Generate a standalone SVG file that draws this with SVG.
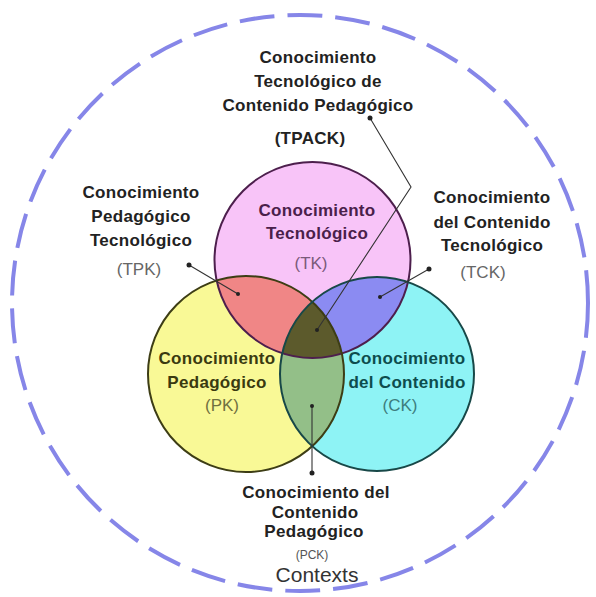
<svg xmlns="http://www.w3.org/2000/svg" xmlns:xlink="http://www.w3.org/1999/xlink" width="596" height="597" viewBox="0 0 596 597">
<style>
text{font-family:"Liberation Sans",Arial,sans-serif;text-anchor:middle}
.b{font-size:17px;font-weight:bold;letter-spacing:0.3px}
.a{font-size:17px}
.lbl{fill:#222}
.acr{fill:#666}
.conn{fill:none;stroke:#333;stroke-width:1.1}
.dot{fill:#222}
.ring{fill:none;stroke-width:2}
</style>
<defs>
<clipPath id="clipTK"><circle cx="312.5" cy="260" r="98"/></clipPath>
<clipPath id="clipPK"><circle cx="246" cy="374" r="98"/></clipPath>
<clipPath id="clipCK"><circle cx="377" cy="374" r="97"/></clipPath>
</defs>
<rect width="596" height="597" fill="#ffffff"/>
<g id="contexts">
<circle cx="300" cy="303" r="288" fill="none" stroke="#8686e8" stroke-width="4" stroke-dasharray="35 13"/>
<text x="317" y="582" font-size="21" fill="#333">Contexts</text>
</g>
<g id="fills">
<circle cx="312.5" cy="260" r="98" fill="#f8c4f8"/>
<circle cx="246" cy="374" r="98" fill="#f9f996"/>
<circle cx="377" cy="374" r="97" fill="#8ef3f5"/>
<circle cx="246" cy="374" r="98" fill="#f08686" clip-path="url(#clipTK)"/>
<circle cx="377" cy="374" r="97" fill="#8b8bf2" clip-path="url(#clipTK)"/>
<circle cx="377" cy="374" r="97" fill="#93bf88" clip-path="url(#clipPK)"/>
<g clip-path="url(#clipTK)"><circle cx="377" cy="374" r="97" fill="#5c5a2c" clip-path="url(#clipPK)"/></g>
</g>
<g id="tk">
<circle class="ring" cx="312.5" cy="260" r="98" stroke="#4d1f4d"/>
<text class="b" x="317" y="216" fill="#4a204a">Conocimiento</text>
<text class="b" x="317" y="239" fill="#4a204a">Tecnológico</text>
<text class="a" x="311" y="269" fill="#7a5a7a">(TK)</text>
</g>
<g id="pk">
<circle class="ring" cx="246" cy="374" r="98" stroke="#3d3d15"/>
<text class="b" x="217" y="364" fill="#3a3a10">Conocimiento</text>
<text class="b" x="217" y="388" fill="#3a3a10">Pedagógico</text>
<text class="a" x="222" y="411" fill="#707040">(PK)</text>
</g>
<g id="ck">
<circle class="ring" cx="377" cy="374" r="97" stroke="#184848"/>
<text class="b" x="407" y="364" fill="#0d4d4d">Conocimiento</text>
<text class="b" x="407" y="388" fill="#0d4d4d">del Contenido</text>
<text class="a" x="400" y="411" fill="#3d7d7d">(CK)</text>
</g>
<g id="tpack">
<text class="b lbl" x="318" y="63">Conocimiento</text>
<text class="b lbl" x="318" y="87">Tecnológico de</text>
<text class="b lbl" x="318" y="111">Contenido Pedagógico</text>
<text class="b lbl" x="310" y="144">(TPACK)</text>
</g>
<g id="tpk">
<text class="b lbl" x="141" y="198">Conocimiento</text>
<text class="b lbl" x="141" y="222">Pedagógico</text>
<text class="b lbl" x="141" y="246">Tecnológico</text>
<text class="a acr" x="139" y="275">(TPK)</text>
</g>
<g id="tck">
<text class="b lbl" x="492" y="203">Conocimiento</text>
<text class="b lbl" x="492" y="228">del Contenido</text>
<text class="b lbl" x="492" y="251">Tecnológico</text>
<text class="a acr" x="483" y="278">(TCK)</text>
</g>
<g id="pck">
<text class="b lbl" x="316" y="498">Conocimiento del</text>
<text class="b lbl" x="315" y="518">Contenido</text>
<text class="b lbl" x="314" y="537">Pedagógico</text>
<text x="312" y="559" font-size="12" fill="#555">(PCK)</text>
</g>
<g id="connectors">
<polyline class="conn" points="370,118 411,187 317,330"/>
<circle class="dot" cx="370" cy="118" r="2.5"/>
<circle class="dot" cx="317" cy="330" r="2"/>
<line class="conn" x1="189" y1="265" x2="238" y2="294"/>
<circle class="dot" cx="189" cy="265" r="2.5"/>
<circle class="dot" cx="238" cy="294" r="2"/>
<line class="conn" x1="429" y1="269" x2="380" y2="297"/>
<circle class="dot" cx="429" cy="269" r="2.5"/>
<circle class="dot" cx="380" cy="297" r="2"/>
<line class="conn" x1="312" y1="406" x2="312" y2="473"/>
<circle class="dot" cx="312" cy="406" r="2"/>
<circle class="dot" cx="312" cy="473" r="2.5"/>
</g>
</svg>
